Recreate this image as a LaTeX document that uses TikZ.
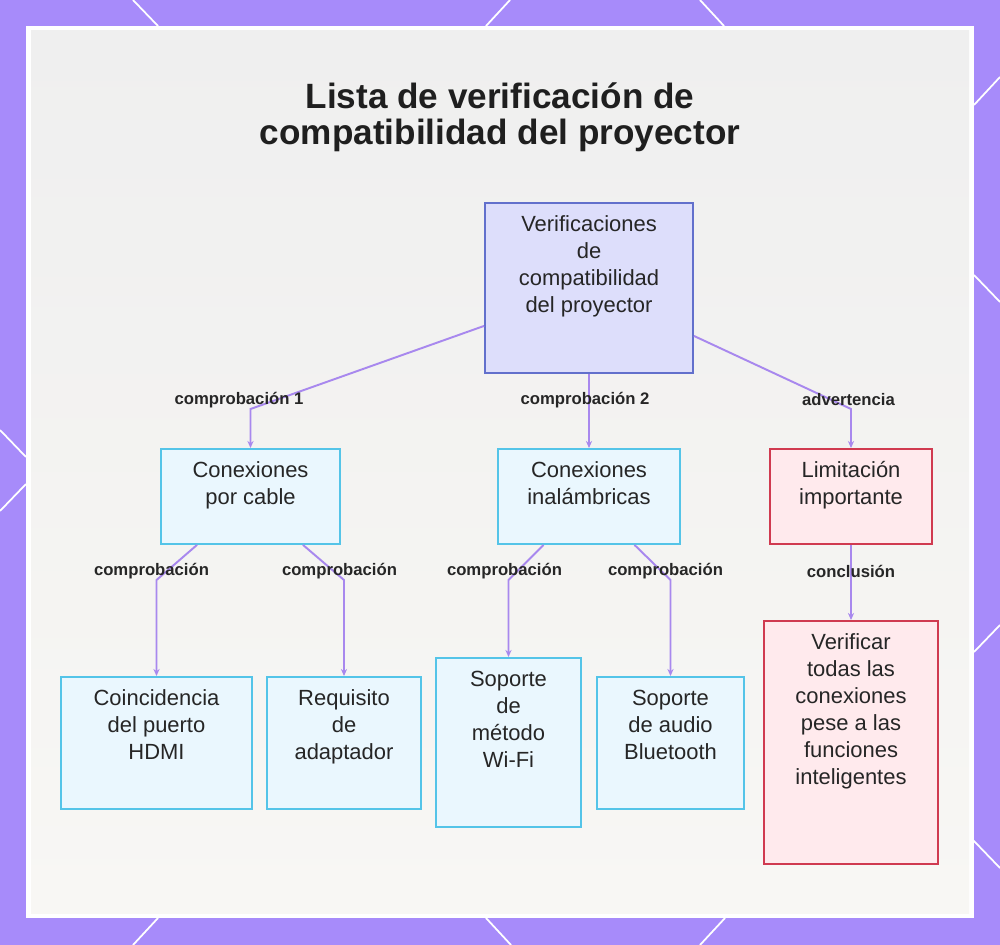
\documentclass[tikz,border=0pt]{standalone}
\usepackage{fontspec}
\setmainfont{Liberation Sans}
\usetikzlibrary{arrows.meta}

\definecolor{bgpurple}{RGB}{167,139,250}
\definecolor{linkpurple}{RGB}{168,136,238}
\definecolor{rootfill}{RGB}{221,222,251}
\definecolor{rootdraw}{RGB}{98,112,204}
\definecolor{cyanfill}{RGB}{234,247,254}
\definecolor{cyandraw}{RGB}{84,196,232}
\definecolor{redfill}{RGB}{255,234,237}
\definecolor{reddraw}{RGB}{208,58,80}
\definecolor{inktext}{RGB}{38,38,38}
\definecolor{paneltop}{RGB}{239,239,239}
\definecolor{panelbot}{RGB}{248,247,244}

% text block of a box: width, height, lines (top aligned)
\newcommand{\boxtext}[3]{\parbox[c][#2][t]{#1}{\centering\rule{0pt}{0.58cm}#3}}

\begin{document}
\begin{tikzpicture}[x=0.02cm, y=-0.02cm,
    boxbase/.style={draw, line width=1.1pt, inner sep=0pt, anchor=north, text=inktext,
        font=\fontsize{12.5}{15.3}\selectfont},
    rootbox/.style={boxbase, draw=rootdraw, fill=rootfill},
    wiredbox/.style={boxbase, draw=cyandraw, fill=cyanfill},
    warnbox/.style={boxbase, draw=reddraw, fill=redfill},
    link/.style={draw=linkpurple, line width=1.1pt, -{Stealth[length=4pt, width=3.5pt]}},
    edgelabel/.style={font=\fontsize{9.5}{11}\selectfont\bfseries, text=inktext},
]
    \useasboundingbox (0, 0) rectangle (1000, 945);

    % Frame
    \fill[bgpurple] (0, 0) rectangle (1000, 945);
    \foreach \a/\b/\c/\d in {133/0/158/26, 510/0/486/26, 700/0/724/26,
                             158/918/133/945, 486/918/511/945, 725/918/700/945,
                             0/430/26/457, 26/484/0/511,
                             974/105/1000/77, 974/275/1000/302, 974/652/1000/625, 973/840/1000/868}
        \draw[white, line width=1pt] (\a, \b) -- (\c, \d);
    \fill[white] (26, 26) rectangle (974, 918);
    \shade[top color=paneltop, bottom color=panelbot] (31, 31) rectangle (969, 913);

    % Title
    \node[font=\fontsize{20}{20.4}\selectfont\bfseries, align=center, text=black!88] (title) at (500, 117)
        {Lista de verificación de\\compatibilidad del proyector};

    % Boxes
    \node[rootbox] (root) at (589, 202)
        {\boxtext{4.16cm}{3.4cm}{Verificaciones\\de\\compatibilidad\\del proyector}};

    \node[wiredbox] (cable) at (250.5, 448) {\boxtext{3.58cm}{1.9cm}{Conexiones\\por cable}};
    \node[wiredbox] (inal) at (589, 448) {\boxtext{3.64cm}{1.9cm}{Conexiones\\inalámbricas}};
    \node[warnbox] (limit) at (851, 448) {\boxtext{3.24cm}{1.9cm}{Limitación\\importante}};

    \node[wiredbox] (hdmi) at (156.5, 676) {\boxtext{3.82cm}{2.64cm}{Coincidencia\\del puerto\\HDMI}};
    \node[wiredbox] (adapt) at (344, 676) {\boxtext{3.08cm}{2.64cm}{Requisito\\de\\adaptador}};
    \node[wiredbox] (wifi) at (508.5, 657) {\boxtext{2.9cm}{3.38cm}{Soporte\\de\\método\\Wi-Fi}};
    \node[wiredbox] (bt) at (670.5, 676) {\boxtext{2.94cm}{2.64cm}{Soporte\\de audio\\Bluetooth}};
    \node[warnbox] (verif) at (851, 620)
        {\boxtext{3.48cm}{4.86cm}{Verificar\\todas las\\conexiones\\pese a las\\funciones\\inteligentes}};

    % Connectors
    \draw[link] ([yshift=-0.76cm]root.west) -- ([yshift=0.78cm]cable.north) -- (cable.north);
    \draw[link] (root.south) -- (inal.north);
    \draw[link] ([yshift=-0.96cm]root.east) -- ([yshift=0.78cm]limit.north) -- (limit.north);

    \draw[link] ([xshift=-1.07cm]cable.south) -- ([yshift=1.92cm]hdmi.north) -- (hdmi.north);
    \draw[link] ([xshift=1.05cm]cable.south) -- ([yshift=1.92cm]adapt.north) -- (adapt.north);
    \draw[link] ([xshift=-0.91cm]inal.south) -- ([yshift=1.54cm]wifi.north) -- (wifi.north);
    \draw[link] ([xshift=0.91cm]inal.south) -- ([yshift=1.92cm]bt.north) -- (bt.north);
    \draw[link] (limit.south) -- (verif.north);

    % Connector labels
    \node[edgelabel] (lab1) at (239, 400) {comprobación 1};
    \node[edgelabel] (lab2) at (585, 400) {comprobación 2};
    \node[edgelabel] (lab3) at (848.5, 400) {advertencia};
    \node[edgelabel] (lab4) at (151.5, 571) {comprobación};
    \node[edgelabel] (lab5) at (339.5, 571) {comprobación};
    \node[edgelabel] (lab6) at (504.5, 571) {comprobación};
    \node[edgelabel] (lab7) at (665.5, 571) {comprobación};
    \node[edgelabel] (lab8) at (851, 571) {conclusión};

\end{tikzpicture}
\end{document}
